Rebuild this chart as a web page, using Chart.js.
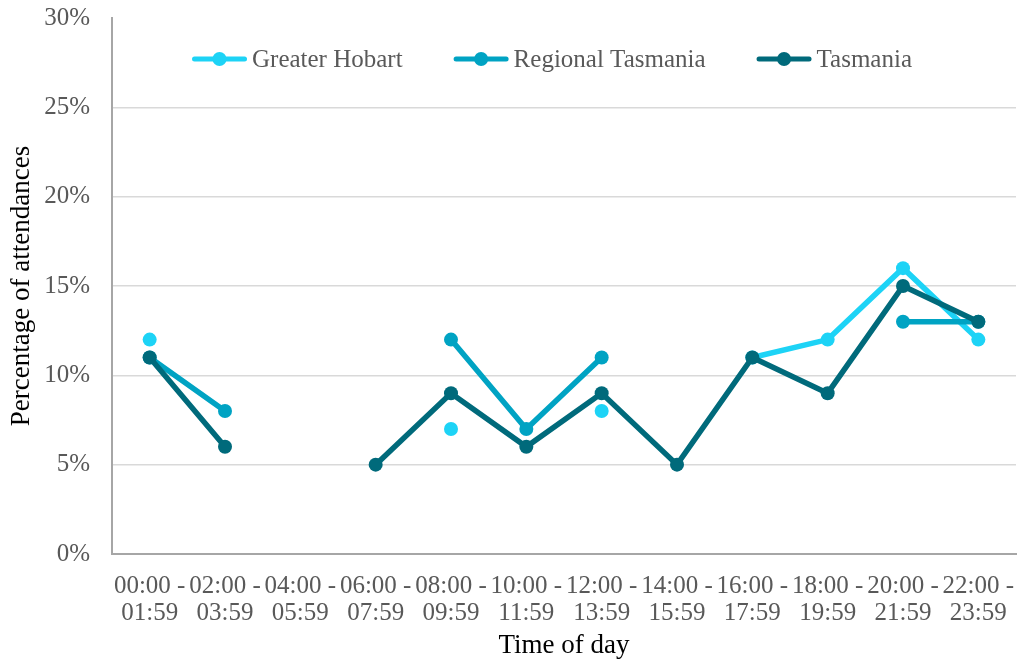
<!DOCTYPE html>
<html>
<head>
<meta charset="utf-8">
<title>Attendances by time of day</title>
<script src="https://cdn.jsdelivr.net/npm/chart.js@4.4.1/dist/chart.umd.min.js"></script>
<style>
  body { margin: 0; background: #fff; }
  #wrap { width: 1017px; height: 662px; }
</style>
</head>
<body>
<div id="wrap"><canvas id="chart"></canvas></div>
<script>
// ------------ data -----------------------

var timeBands = [
  ["00:00 -", "01:59"], ["02:00 -", "03:59"], ["04:00 -", "05:59"],
  ["06:00 -", "07:59"], ["08:00 -", "09:59"], ["10:00 -", "11:59"],
  ["12:00 -", "13:59"], ["14:00 -", "15:59"], ["16:00 -", "17:59"],
  ["18:00 -", "19:59"], ["20:00 -", "21:59"], ["22:00 -", "23:59"]
];

// percentage of attendances, null = no figure for that band
var greaterHobart = [12, null, null, null, 7, null, 8, null, 11, 12, 16, 12];
var regionalTas = [11, 8, null, null, 12, 7, 11, null, null, null, 13, 13];
var tasmania = [11, 6, null, 5, 9, 6, 9, 5, 11, 9, 15, 13];

var yTicks = [0, 5, 10, 15, 20, 25, 30];

// ------------ styles ---------------------

var colHobart = "#1DD3F6";
var colRegional = "#00A3C3";
var colTas = "#006A7B";
var serif = "'Liberation Serif', serif";
var greyText = "#595959";

Chart.defaults.font.family = serif;

function series(label, data, colour, order) {
  return {
    label: label,
    data: data,
    borderColor: colour,
    backgroundColor: colour,
    borderWidth: 5.5,
    pointRadius: 7,
    pointBorderWidth: 0,
    pointBackgroundColor: colour,
    spanGaps: false,
    order: order
  };
}

// legend row drawn inside the plot: line + dot, then the series name
var lineLegend = {
  id: "lineLegend",
  afterDraw: function (chart) {
    var ctx = chart.ctx;
    var area = chart.chartArea;
    var x = area.left + 80;
    var y = area.top + 41;
    ctx.save();
    ctx.font = "25px " + serif;
    ctx.textBaseline = "alphabetic";
    chart.data.datasets.forEach(function (ds) {
      ctx.strokeStyle = ds.borderColor;
      ctx.lineWidth = 5;
      ctx.lineCap = "round";
      ctx.beginPath();
      ctx.moveTo(x + 2.5, y);
      ctx.lineTo(x + 52.5, y);
      ctx.stroke();
      ctx.fillStyle = ds.borderColor;
      ctx.beginPath();
      ctx.arc(x + 27.5, y, 7, 0, Math.PI * 2);
      ctx.fill();
      ctx.fillStyle = greyText;
      ctx.fillText(ds.label, x + 60, y + 8);
      x += 60 + ctx.measureText(ds.label).width + 51;
    });
    ctx.restore();
  }
};

// ------------ chart ----------------------

new Chart(document.getElementById("chart"), {
  type: "line",
  data: {
    labels: timeBands,
    datasets: [
      series("Greater Hobart", greaterHobart, colHobart, 3),
      series("Regional Tasmania", regionalTas, colRegional, 2),
      series("Tasmania", tasmania, colTas, 1)
    ]
  },
  plugins: [lineLegend],
  options: {
    responsive: true,
    maintainAspectRatio: false,
    animation: false,
    layout: { autoPadding: false, padding: { top: 18, left: 6, right: 1, bottom: 0 } },
    plugins: {
      tooltip: { enabled: false },
      legend: { display: false }
    },
    scales: {
      x: {
        offset: true,
        // invisible tick marks only push the labels down
        grid: {
          display: true,
          drawOnChartArea: false,
          drawTicks: true,
          tickLength: 17,
          tickColor: "rgba(0,0,0,0)"
        },
        border: { color: "#A6A6A6", width: 2 },
        ticks: {
          color: greyText,
          font: { family: serif, size: 25, lineHeight: 1.08 },
          padding: 2,
          maxRotation: 0,
          autoSkip: false
        },
        title: {
          display: true,
          text: "Time of day",
          color: "#000000",
          font: { family: serif, size: 27 },
          padding: { top: 0, bottom: 0 }
        },
        afterFit: function (s) {
          s.height = 108;
        }
      },
      y: {
        min: 0,
        max: 30,
        afterBuildTicks: function (s) {
          s.ticks = yTicks.map(function (v) { return { value: v }; });
        },
        grid: {
          color: function (ctx) { return ctx.tick && ctx.tick.value === 30 ? "rgba(0,0,0,0)" : "#D9D9D9"; },
          lineWidth: 1.5,
          drawTicks: false
        },
        border: { color: "#A6A6A6", width: 2 },
        ticks: {
          color: greyText,
          font: { family: serif, size: 25 },
          padding: 22,
          callback: function (v) { return v + "%"; }
        },
        title: {
          display: true,
          text: "Percentage of attendances",
          color: "#000000",
          font: { family: serif, size: 27 },
          padding: { top: 0, bottom: 0 }
        },
        afterFit: function (s) {
          s.width = 106;
          s.paddingTop = 0;
          s.paddingBottom = 0;
        }
      }
    }
  }
});
</script>
</body>
</html>
